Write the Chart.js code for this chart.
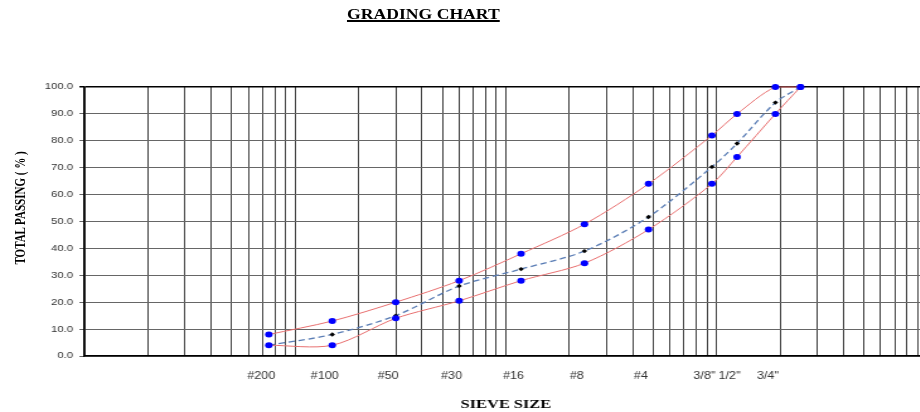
<!DOCTYPE html>
<html>
<head>
<meta charset="utf-8">
<title>Grading Chart</title>
<script src="https://cdn.jsdelivr.net/npm/chart.js@4.4.1/dist/chart.umd.min.js"></script>
<style>
  html, body { margin: 0; padding: 0; background: #fff; overflow: hidden; }
  /* o original é esticado na horizontal, então esticamos tudo junto */
  #wrap { position: relative; width: 740px; height: 412px; transform: scaleX(1.26); transform-origin: 0 0; }
  #grafico { position: absolute; left: 0; top: 0; }
  #titulo {
    position: absolute; left: 236px; top: 7px; width: 200px; text-align: center;
    font: bold 14px/16px "Liberation Serif", serif; color: #000;
    text-decoration: underline; text-decoration-thickness: 1.5px; text-underline-offset: 1px;
  }
  #ytitulo {
    position: absolute; left: 16px; top: 208px; white-space: nowrap;
    transform: translate(-50%, -50%) rotate(-90deg);
    font: bold 11px/13px "Liberation Serif", serif; color: #000;
  }
</style>
</head>
<body>
<div id="wrap">
  <div id="titulo">GRADING CHART</div>
  <div id="ytitulo">TOTAL PASSING ( % )</div>
  <canvas id="grafico" width="740" height="412"></canvas>
</div>
<script>
// Peneiras (abertura em mm) e rótulos do eixo X
const sieveSizes  = [0.075, 0.15, 0.3, 0.6, 1.18, 2.36, 4.75, 9.5, 12.5, 19, 25];
const sieveLabels = ['#200', '#100', '#50', '#30', '#16', '#8', '#4', '3/8"', '1/2"', '3/4"', ''];

// % passante: limites da faixa e resultado do ensaio
const upperLimit   = [8, 13, 20, 28, 38, 49, 64, 82, 90, 100, 100];
const lowerLimit   = [4, 4, 14, 20.5, 28, 34.5, 47, 64, 74, 90, 100];
const totalPassing = [4, 8, 15, 26, 32.3, 39, 51.7, 70.3, 79, 94.2, 100];

const yTicks = [0, 10, 20, 30, 40, 50, 60, 70, 80, 90, 100];

// linhas da grade logarítmica: 1..9 x 10^n, de 0.01 a 100
const gridTicks = [];
for (let e = -2; e < 2; e++) {
  for (let m = 1; m < 10; m++) gridTicks.push(+(m * Math.pow(10, e)).toPrecision(3));
}
gridTicks.push(100);

const pts = arr => sieveSizes.map((s, i) => ({ x: s, y: arr[i] }));

const limitStyle = {
  borderColor: '#e87070',
  borderWidth: 1,
  pointRadius: 3,
  pointStyle: 'circle',
  pointBackgroundColor: '#0000ff',
  pointBorderColor: '#0000ff',
  pointBorderWidth: 0,
  tension: 0.3,
  fill: false,
  clip: false
};

const ctx = document.getElementById('grafico').getContext('2d');
new Chart(ctx, {
  type: 'line',
  data: {
    datasets: [
      Object.assign({ label: 'Upper', data: pts(upperLimit) }, limitStyle),
      Object.assign({ label: 'Lower', data: pts(lowerLimit) }, limitStyle),
      {
        label: 'Total passing',
        data: pts(totalPassing),
        borderColor: '#5a7db5',
        borderWidth: 1.3,
        borderDash: [5, 3],
        pointRadius: 2.2,
        pointStyle: 'rectRot',
        pointBackgroundColor: '#000',
        pointBorderColor: '#000',
        pointBorderWidth: 0,
        tension: 0.3,
        fill: false,
        clip: false
      }
    ]
  },
  options: {
    responsive: false,
    animation: false,
    events: [],
    layout: { padding: { top: 87, right: 3.5, left: 0, bottom: 0 } },
    plugins: {
      legend: { display: false },
      tooltip: { enabled: false }
    },
    scales: {
      x: {
        type: 'logarithmic',
        position: 'bottom',
        min: 0.01,
        max: 100,
        afterBuildTicks: scale => { scale.ticks = gridTicks.map(v => ({ value: v })); },
        afterFit: scale => { scale.height = 0; },
        ticks: { display: false },
        grid: { color: '#444', lineWidth: 1, drawTicks: false },
        border: { color: '#000', width: 1.5 }
      },
      xl: {
        type: 'logarithmic',
        position: 'bottom',
        min: 0.01,
        max: 100,
        afterBuildTicks: scale => {
          scale.ticks = sieveSizes.filter((s, i) => sieveLabels[i]).map(v => ({ value: v }));
        },
        afterFit: scale => { scale.height = 56; },
        grid: { display: false, drawTicks: false },
        border: { display: false },
        ticks: {
          autoSkip: false,
          maxRotation: 0,
          padding: 14,
          labelOffset: -6,
          color: '#333',
          font: { family: 'Liberation Sans', size: 10 },
          callback: v => sieveLabels[sieveSizes.indexOf(v)]
        },
        title: {
          display: true,
          text: 'SIEVE SIZE',
          color: '#000',
          padding: { top: 0, bottom: 0 },
          font: { family: 'Liberation Serif', size: 13, weight: 'bold' }
        }
      },
      y: {
        min: 0,
        max: 100,
        afterBuildTicks: scale => { scale.ticks = yTicks.map(v => ({ value: v })); },
        afterFit: scale => { scale.width = 67; },
        ticks: {
          padding: 5,
          color: '#333',
          font: { family: 'Liberation Sans', size: 9 },
          callback: v => Number(v).toFixed(1)
        },
        grid: {
          color: c => (c.tick && c.tick.value === 100 ? '#000' : '#666'),
          lineWidth: c => (c.tick && c.tick.value === 100 ? 1.5 : 1),
          tickLength: 4
        },
        border: { color: '#000', width: 1.5 }
      }
    }
  }
});
</script>
</body>
</html>
